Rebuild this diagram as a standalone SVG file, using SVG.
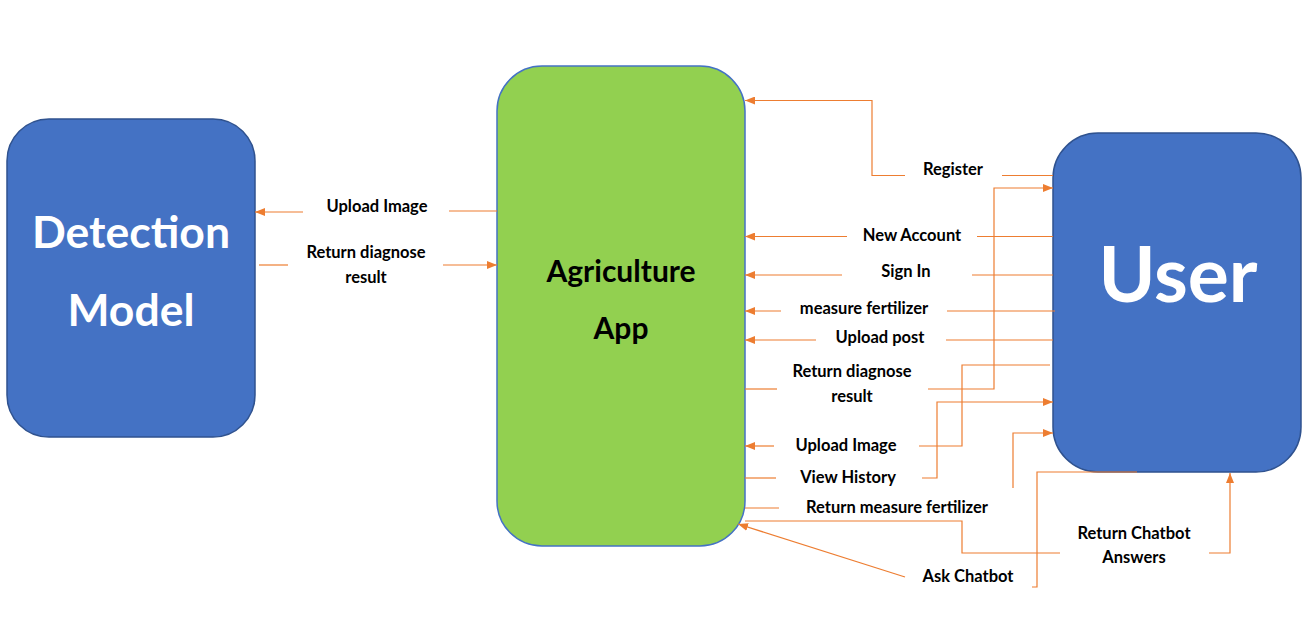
<svg xmlns="http://www.w3.org/2000/svg" width="1313" height="632" viewBox="0 0 1313 632">
<style>
.box{fill:#4472C4;stroke:#2F528F;stroke-width:1.5}
.app{fill:#92D050;stroke:#4472C4;stroke-width:1.5}
.big{font-family:Lato,"Open Sans",sans-serif;font-weight:bold;fill:#fff;text-anchor:middle}
.mid{font-family:Lato,"Open Sans",sans-serif;font-weight:bold;fill:#000;text-anchor:middle;font-size:30px}
.lbl{font-family:Lato,"Open Sans",sans-serif;font-weight:bold;fill:#000;text-anchor:middle;font-size:16.5px}
.c{fill:none;stroke:#ED7D31;stroke-width:1.2}
.a{marker-end:url(#ah)}
</style>
<defs>
<marker id="ah" viewBox="0 0 10 8" refX="10" refY="4" markerWidth="10" markerHeight="8" markerUnits="userSpaceOnUse" orient="auto">
<path d="M0,0 L10,4 L0,8 z" fill="#ED7D31"/>
</marker>
</defs>
<rect width="1313" height="632" fill="#fff"/>
<g id="detection">
<rect class="box" x="7" y="119" width="248" height="318" rx="42"/>
<text class="big" x="131" y="248" font-size="44.5">Detection</text>
<text class="big" x="131" y="326" font-size="44.5">Model</text>
</g>
<g id="app">
<rect class="app" x="497" y="66" width="248" height="480" rx="45"/>
<text class="mid" x="621" y="282">Agriculture</text>
<text class="mid" x="621" y="339">App</text>
</g>
<g id="user">
<rect class="box" x="1053" y="133" width="248" height="339" rx="45"/>
<text class="big" x="1178" y="302" font-size="77">User</text>
</g>
<g id="connectors">
<path class="c a" d="M303,212 L255,212"/>
<path class="c" d="M497,211 L449,211"/>
<path class="c" d="M259,265 L288,265"/>
<path class="c a" d="M443,265 L497,265"/>
<path class="c" d="M1053,175.5 L1002,175.5"/>
<path class="c a" d="M905,175.5 L872,175.5 L872,100.5 L745,100.5"/>
<path class="c" d="M745,389 L777,389"/>
<path class="c a" d="M928,389 L994,389 L994,188 L1053,188"/>
<path class="c" d="M1053,236.5 L977,236.5"/>
<path class="c a" d="M847,236.5 L745,236.5"/>
<path class="c" d="M1053,275 L972,275"/>
<path class="c a" d="M842,275 L745,275"/>
<path class="c" d="M1055,311 L947,311"/>
<path class="c a" d="M781,311 L745,311"/>
<path class="c" d="M1053,340 L946,340"/>
<path class="c a" d="M816,340 L745,340"/>
<path class="c" d="M1050,365 L962,365 L962,446 L919,446"/>
<path class="c a" d="M774,446 L745,446"/>
<path class="c" d="M745,478 L776,478"/>
<path class="c a" d="M922,478 L937,478 L937,402 L1053,402"/>
<path class="c" d="M745,508 L779,508"/>
<path class="c a" d="M1013,488 L1013,433 L1053,433"/>
<path class="c" d="M1137,472 L1037,472 L1037,587 L1032,587"/>
<path class="c a" d="M905,577 L738,524"/>
<path class="c" d="M745,521 L962,521 L962,553 L1060,553"/>
<path class="c a" d="M1209,553 L1230,553 L1230,473"/>
</g>
<g id="labels">
<text class="lbl" x="377" y="212">Upload Image</text>
<text class="lbl" x="366" y="258">Return diagnose</text>
<text class="lbl" x="366" y="283">result</text>
<text class="lbl" x="953" y="175">Register</text>
<text class="lbl" x="912" y="241">New Account</text>
<text class="lbl" x="906" y="277">Sign In</text>
<text class="lbl" x="864" y="314">measure fertilizer</text>
<text class="lbl" x="880" y="343">Upload post</text>
<text class="lbl" x="852" y="377">Return diagnose</text>
<text class="lbl" x="852" y="402">result</text>
<text class="lbl" x="846" y="451">Upload Image</text>
<text class="lbl" x="848" y="483">View History</text>
<text class="lbl" x="897" y="513">Return measure fertilizer</text>
<text class="lbl" x="1134" y="539">Return Chatbot</text>
<text class="lbl" x="1134" y="563">Answers</text>
<text class="lbl" x="968" y="582">Ask Chatbot</text>
</g>
</svg>
